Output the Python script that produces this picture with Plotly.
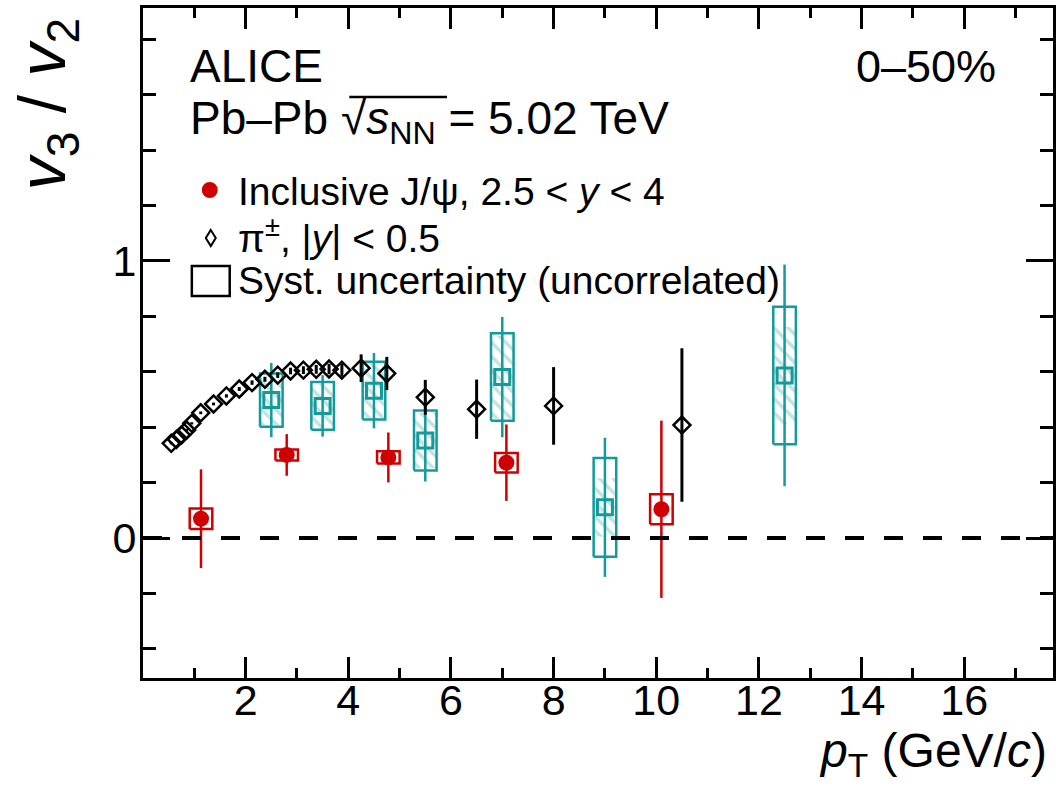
import plotly.graph_objects as go

# ---------------- data ----------------
# charged pions, |y|<0.5
pi_pt = [0.55, 0.65, 0.75, 0.85, 0.95, 1.125, 1.375, 1.625, 1.875, 2.125, 2.375, 2.625,
         2.875, 3.125, 3.375, 3.625, 3.875, 4.25, 4.75, 5.5, 6.5, 8.0, 10.5]
pi_v = [0.342, 0.356, 0.372, 0.390, 0.414, 0.452, 0.484, 0.513, 0.538, 0.561, 0.573, 0.588,
        0.603, 0.606, 0.609, 0.610, 0.606, 0.613, 0.594, 0.508, 0.465, 0.477, 0.408]
pi_stat = [0.004, 0.004, 0.004, 0.004, 0.004, 0.005, 0.005, 0.006, 0.007, 0.008, 0.009, 0.010,
           0.012, 0.014, 0.016, 0.019, 0.023, 0.050, 0.060, 0.063, 0.107, 0.140, 0.277]

# inclusive J/psi, 2.5<y<4
jpsi_pt = [1.13, 2.80, 4.78, 7.08, 10.10]
jpsi_v = [0.070, 0.300, 0.291, 0.272, 0.104]
jpsi_stat = [0.178, 0.075, 0.090, 0.138, 0.320]
jpsi_sys = [0.037, 0.020, 0.022, 0.035, 0.054]

# teal series (boxes with hatched band)
teal_pt = [2.5, 3.5, 4.5, 5.5, 7.0, 9.0, 12.5]
teal_v = [0.498, 0.477, 0.532, 0.352, 0.581, 0.111, 0.587]
teal_stat = [0.134, 0.111, 0.136, 0.148, 0.217, 0.251, 0.400]
teal_sys = [0.096, 0.086, 0.104, 0.108, 0.158, 0.178, 0.248]
teal_hatch = [0.090, 0.080, 0.100, 0.100, 0.150, 0.105, 0.175]

x_ticks = [2, 4, 6, 8, 10, 12, 14, 16]
x_minor = [1, 3, 5, 7, 9, 11, 13, 15, 17]
y_ticks = [0, 1]
y_minor = [-0.4, -0.2, 0.2, 0.4, 0.6, 0.8, 1.2, 1.4, 1.6, 1.8]

# ---------------- style ----------------
RED = "#d00000"
TEAL = "#139a9a"
HATCH = "rgba(19,154,154,0.55)"
FONT = "Liberation Sans, Arial, Helvetica, sans-serif"
BW = 0.22  # half width of systematic boxes (GeV/c)

W, H = 1056, 788
ML, MR, MT, MB = 143, 0, 8, 110
PW, PH = W - ML - MR, H - MT - MB


def X(px):
    return (px - ML) / PW


def Y(py):
    return (H - MB - py) / PH


def rects(xs, ys, hs):
    rx, ry = [], []
    for x, y, h in zip(xs, ys, hs):
        rx += [x - BW, x + BW, x + BW, x - BW, x - BW, None]
        ry += [y - h, y - h, y + h, y + h, y - h, None]
    return rx, ry


fig = go.Figure()

# teal hatched band
fig.add_trace(go.Bar(
    x=teal_pt, y=[2 * h for h in teal_hatch], base=[v - h for v, h in zip(teal_v, teal_hatch)],
    width=[2 * BW] * len(teal_pt),
    marker=dict(color="rgba(0,0,0,0)", line=dict(width=0),
                pattern=dict(shape="\\", fgcolor=HATCH, bgcolor="rgba(0,0,0,0)",
                             size=10, solidity=0.35)),
    showlegend=False, hoverinfo="skip"))

# teal boxes
tx, ty = rects(teal_pt, teal_v, teal_sys)
fig.add_trace(go.Scatter(x=tx, y=ty, mode="lines", line=dict(color=TEAL, width=2.5),
                         showlegend=False, hoverinfo="skip"))
# teal points + stat
fig.add_trace(go.Scatter(
    x=teal_pt, y=teal_v, mode="markers",
    marker=dict(symbol="square-open", size=15, color=TEAL, line=dict(color=TEAL, width=3)),
    error_y=dict(type="data", array=teal_stat, width=0, thickness=2.5, color=TEAL),
    showlegend=False))

# J/psi boxes
rx, ry = rects(jpsi_pt, jpsi_v, jpsi_sys)
fig.add_trace(go.Scatter(x=rx, y=ry, mode="lines", line=dict(color=RED, width=2.5),
                         showlegend=False, hoverinfo="skip"))
fig.add_trace(go.Scatter(
    x=jpsi_pt, y=jpsi_v, mode="markers",
    marker=dict(symbol="circle", size=16, color=RED),
    error_y=dict(type="data", array=jpsi_stat, width=0, thickness=2.5, color=RED),
    showlegend=False))

# pions
fig.add_trace(go.Scatter(
    x=pi_pt, y=pi_v, mode="markers",
    marker=dict(symbol="diamond-open", size=13, color="black", line=dict(color="black", width=2.5)),
    error_y=dict(type="data", array=pi_stat, width=0, thickness=3, color="black"),
    showlegend=False))

shapes = [
    dict(type="line", xref="paper", x0=0, x1=1, yref="y", y0=0, y1=0,
         line=dict(color="black", width=4, dash="19px,20px"), layer="above"),
    # legend keys
    dict(type="circle", xref="paper", yref="paper", x0=X(202), x1=X(218), y0=Y(198), y1=Y(182),
         fillcolor=RED, line=dict(width=0)),
    dict(type="path", xref="paper", yref="paper",
         path=f"M{X(211)},{Y(230)} L{X(216)},{Y(238)} L{X(211)},{Y(246)} L{X(206)},{Y(238)} Z",
         line=dict(color="black", width=2)),
    dict(type="rect", xref="paper", yref="paper", x0=X(192), x1=X(230), y0=Y(296), y1=Y(266),
         line=dict(color="black", width=2.5)),
    # sqrt overline
    dict(type="line", xref="paper", yref="paper", x0=X(350), x1=X(448), y0=Y(97), y1=Y(97),
         line=dict(color="black", width=2.5)),
]

annots = [
    dict(text="ALICE", x=X(188), y=Y(66), xanchor="left", yanchor="middle", font=dict(size=46)),
    dict(text="Pb\u2013Pb \u221a<i>s</i><sub>NN</sub> = 5.02 TeV", x=X(188), y=Y(122),
         xanchor="left", yanchor="middle", font=dict(size=46)),
    dict(text="0\u201350%", x=X(1001), y=Y(66), xanchor="right", yanchor="middle", font=dict(size=45)),
    dict(text="Inclusive J/\u03c8, 2.5 &lt; <i>y</i> &lt; 4", x=X(236), y=Y(192),
         xanchor="left", yanchor="middle", font=dict(size=39)),
    dict(text="\u03c0<sup>\u00b1</sup>, |<i>y</i>| &lt; 0.5", x=X(236), y=Y(236),
         xanchor="left", yanchor="middle", font=dict(size=39)),
    dict(text="Syst. uncertainty (uncorrelated)", x=X(236), y=Y(280),
         xanchor="left", yanchor="middle", font=dict(size=39)),
    dict(text="<i>p</i><sub>T</sub> (GeV/<i>c</i>)", x=X(1052), y=Y(754),
         xanchor="right", yanchor="middle", font=dict(size=48)),
    dict(text="<i>v</i><sub>3</sub> / <i>v</i><sub>2</sub>", x=X(47), y=Y(16), textangle=-90,
         xanchor="center", yanchor="top", font=dict(size=66)),
]
for a in annots:
    a.update(xref="paper", yref="paper", showarrow=False)

axis_common = dict(showline=True, linecolor="black", linewidth=3, mirror="ticks",
                   ticks="inside", tickcolor="black", tickwidth=2.5, showgrid=False,
                   zeroline=False, tickfont=dict(size=43, color="black"))

fig.update_layout(
    width=W, height=H, margin=dict(l=ML, r=MR, t=MT, b=MB),
    paper_bgcolor="white", plot_bgcolor="white",
    font=dict(family=FONT, color="black"),
    barmode="overlay", showlegend=False,
    xaxis=dict(range=[0, 17.73], tickmode="array", tickvals=x_ticks, ticklen=21,
               ticklabelstandoff=-18,
               minor=dict(tickmode="array", tickvals=x_minor, ticks="inside", ticklen=10,
                          tickwidth=2.5, tickcolor="black"),
               **axis_common),
    yaxis=dict(range=[-0.505, 1.913], tickmode="array", tickvals=y_ticks, ticklen=27,
               ticklabelstandoff=-5,
               minor=dict(tickmode="array", tickvals=y_minor, ticks="inside", ticklen=13,
                          tickwidth=2.5, tickcolor="black"),
               **axis_common),
    shapes=shapes, annotations=annots,
)

fig.write_html("out.html")
